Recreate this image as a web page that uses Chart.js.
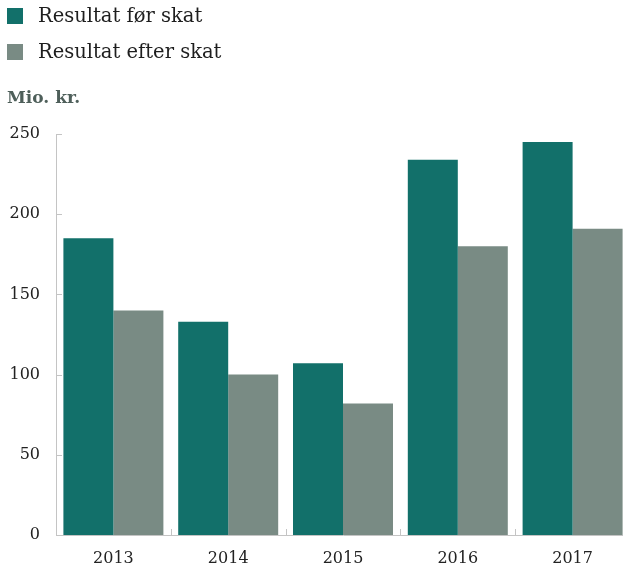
<!DOCTYPE html>
<html>
<head>
<meta charset="utf-8">
<script src="https://cdn.jsdelivr.net/npm/chart.js@4"></script>
<style>
  body { margin: 0; background: #fff; font-family: "DejaVu Serif", serif; overflow: hidden; }
  #wrap { position: relative; width: 623px; height: 571px; overflow: hidden; }
  .leg { position: absolute; left: 7px; font-size: 19.5px; color: #1e1e1e; line-height: 20px; }
  .leg span { display: inline-block; width: 16px; height: 16px; vertical-align: -2px; margin-right: 15px; }
  #unit { position: absolute; left: 7px; top: 87px; font-size: 17px; font-weight: bold; color: #4e5f5a; }
  canvas { position: absolute; left: 0; top: 0; }
</style>
</head>
<body>
<div id="wrap">
  <canvas id="chart" width="630" height="571"></canvas>
  <div class="leg" style="top:6px"><span id="sw0"></span>Resultat før skat</div>
  <div class="leg" style="top:42px"><span id="sw1"></span>Resultat efter skat</div>
  <div id="unit">Mio. kr.</div>
</div>
<script>
// Data
const years = ['2013', '2014', '2015', '2016', '2017'];
const beforeTax = [185, 133, 107, 234, 245];
const afterTax = [140, 100, 82, 180, 191];
const seriesNames = ['Resultat før skat', 'Resultat efter skat'];
const colors = ['#12706a', '#798b84'];

document.getElementById('sw0').style.background = colors[0];
document.getElementById('sw1').style.background = colors[1];

// Short inward tick marks on both axes
const tickMarks = {
    id: 'tickMarks',
    afterDatasetsDraw(chart) {
        const ctx = chart.ctx;
        const x = chart.scales.x;
        const y = chart.scales.y;
        ctx.save();
        ctx.strokeStyle = '#c4c4c4';
        ctx.lineWidth = 1;
        y.ticks.forEach(t => {
            const py = Math.round(y.getPixelForValue(t.value)) + 0.5;
            ctx.beginPath();
            ctx.moveTo(y.right, py);
            ctx.lineTo(y.right + 6, py);
            ctx.stroke();
        });
        for (let i = 0; i < years.length - 1; i++) {
            const px = Math.round((x.getPixelForValue(i) + x.getPixelForValue(i + 1)) / 2) + 0.5;
            ctx.beginPath();
            ctx.moveTo(px, x.top);
            ctx.lineTo(px, x.top - 6);
            ctx.stroke();
        }
        ctx.restore();
    }
};

new Chart(document.getElementById('chart'), {
    type: 'bar',
    data: {
        labels: years,
        datasets: [
            { label: seriesNames[0], data: beforeTax, backgroundColor: colors[0] },
            { label: seriesNames[1], data: afterTax, backgroundColor: colors[1] }
        ]
    },
    options: {
        responsive: false,
        animation: false,
        layout: { padding: { top: 134, right: 0, left: 0, bottom: 0 } },
        plugins: { legend: { display: false }, tooltip: { enabled: false } },
        datasets: { bar: { barPercentage: 1, categoryPercentage: 0.871 } },
        scales: {
            x: {
                afterFit(scale) { scale.height = 36; },
                grid: { display: false },
                border: { color: '#c4c4c4' },
                ticks: { color: '#222', font: { family: 'DejaVu Serif', size: 16 }, padding: 6 }
            },
            y: {
                min: 0,
                max: 250,
                afterFit(scale) { scale.width = 56; },
                grid: { display: false },
                border: { color: '#c4c4c4' },
                ticks: { stepSize: 50, color: '#222', font: { family: 'DejaVu Serif', size: 16 }, padding: 8 }
            }
        }
    },
    plugins: [tickMarks]
});
</script>
</body>
</html>
